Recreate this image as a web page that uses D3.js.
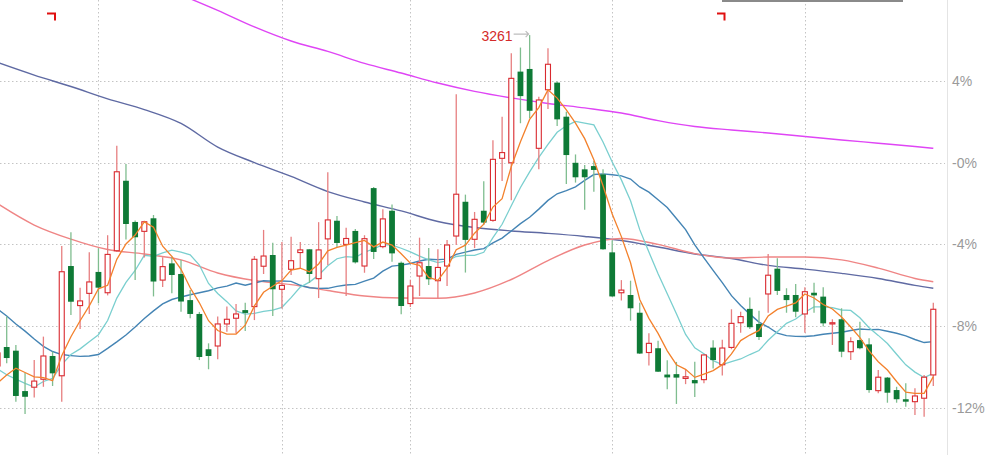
<!DOCTYPE html>
<html><head><meta charset="utf-8">
<script src="https://cdn.jsdelivr.net/npm/d3@7"></script>
<style>html,body{margin:0;padding:0;background:#fff;overflow:hidden}</style>
</head><body>
<svg id="c" width="1003" height="455"></svg>
<script>
// ---- data (percent change) ----
const idx = d3.range(-1, 102); // candle index (first one partly off-screen)
const open = [-9.96,-9.03,-9.21,-11.19,-11.00,-10.61,-9.47,-10.44,-5.06,-7.00,-6.40,-5.35,-6.37,-4.31,-0.88,-2.90,-3.36,-2.72,-5.75,-4.93,-5.45,-6.73,-7.41,-9.14,-8.98,-7.90,-7.62,-7.22,-7.05,-5.07,-4.52,-6.20,-5.22,-4.40,-4.24,-5.68,-3.73,-2.84,-4.00,-3.34,-5.06,-1.24,-4.11,-2.35,-4.90,-6.90,-5.55,-5.06,-5.78,-5.06,-3.59,-1.91,-3.75,-2.35,-2.82,0.22,0.00,4.47,4.60,0.71,3.58,3.93,2.26,0.00,-0.32,-0.16,-0.57,-4.39,-6.37,-6.48,-7.35,-9.30,-9.09,-10.38,-10.36,-10.57,-10.65,-10.63,-9.06,-9.90,-9.05,-7.84,-7.16,-7.90,-6.43,-5.19,-6.48,-6.48,-7.41,-6.37,-6.56,-7.90,-7.67,-9.26,-8.69,-8.90,-11.17,-10.53,-11.14,-11.59,-11.71,-11.54,-10.40];
const high = [-9.18,-7.54,-8.93,-10.30,-9.67,-8.52,-9.26,-4.08,-3.41,-6.12,-4.39,-4.19,-3.55,0.84,-0.06,-2.83,-2.84,-2.56,-4.63,-4.60,-4.76,-6.24,-7.31,-8.85,-7.54,-7.05,-6.92,-6.86,-4.57,-3.29,-3.92,-3.88,-3.62,-3.88,-4.24,-2.91,-0.46,-2.61,-3.18,-3.25,-3.55,-1.19,-2.28,-2.05,-4.84,-5.73,-3.67,-4.18,-4.24,-3.78,3.36,-1.56,-2.41,-0.91,1.10,2.26,5.37,5.65,6.26,3.24,5.61,3.98,2.50,0.41,-0.11,0.10,-0.32,-3.80,-5.75,-5.78,-6.86,-8.36,-8.72,-9.68,-9.76,-10.14,-9.75,-9.40,-8.70,-8.67,-7.18,-7.30,-6.60,-7.25,-4.47,-4.68,-6.15,-5.94,-6.10,-5.88,-6.10,-7.67,-7.13,-8.55,-7.79,-8.60,-10.16,-10.50,-10.98,-10.81,-11.05,-10.40,-6.86];
const low = [-10.16,-9.83,-11.71,-12.31,-11.51,-10.98,-10.94,-11.71,-7.46,-8.15,-7.41,-6.89,-6.50,-4.37,-3.76,-5.75,-4.64,-6.55,-6.09,-6.40,-7.30,-7.62,-9.67,-10.12,-9.63,-8.28,-8.36,-8.25,-7.71,-5.45,-7.51,-7.14,-5.50,-5.21,-5.89,-6.63,-5.01,-4.13,-6.53,-4.94,-5.39,-4.72,-4.19,-4.85,-7.42,-7.07,-6.53,-5.99,-6.64,-6.04,-4.03,-5.38,-4.18,-3.05,-2.89,-0.89,-1.84,1.94,2.18,-0.32,2.64,1.80,-1.04,-0.97,-2.30,-1.42,-4.26,-6.57,-6.75,-7.74,-9.37,-9.94,-10.26,-11.10,-11.82,-10.85,-11.48,-10.81,-10.08,-10.43,-9.14,-8.33,-8.15,-8.69,-7.35,-6.48,-7.35,-7.57,-8.33,-7.35,-8.03,-8.93,-9.53,-9.67,-9.14,-11.27,-11.30,-11.76,-11.76,-11.96,-12.36,-12.45,-10.94];
const close = [-9.32,-9.57,-11.43,-11.47,-10.70,-9.47,-10.32,-5.34,-6.81,-6.77,-5.84,-6.12,-4.49,-0.44,-3.00,-3.65,-2.89,-5.82,-5.09,-5.50,-6.80,-7.41,-9.52,-9.47,-7.90,-7.67,-7.41,-7.36,-4.73,-4.57,-6.20,-6.01,-4.80,-4.27,-5.45,-4.27,-2.80,-3.93,-3.71,-4.88,-3.72,-4.37,-2.75,-4.44,-7.02,-6.04,-4.90,-5.71,-5.13,-4.03,-1.54,-3.78,-2.77,-2.93,0.17,0.50,4.14,3.27,2.55,3.08,4.83,2.13,0.38,-0.71,-0.71,-0.35,-4.24,-6.55,-6.24,-7.13,-9.35,-8.85,-10.24,-10.52,-10.53,-10.49,-10.81,-9.42,-9.67,-9.08,-7.87,-7.54,-8.06,-8.54,-5.51,-6.28,-6.73,-7.30,-6.32,-6.50,-7.87,-7.84,-9.26,-8.77,-9.09,-11.14,-10.51,-11.27,-11.59,-11.71,-11.43,-10.51,-7.18];

const ma5Lead  = [-10.80,-10.40,-10.07,-10.28];
const ma10Lead = [-10.11,-10.39,-10.60,-10.81,-10.99,-10.72,-10.57,-9.89,-9.40];
const ma20Lead = [-7.17,-7.51,-7.90,-8.25,-8.64,-9.00,-9.25,-9.40,-9.45,-9.49,-9.47,-9.40,-9.10,-8.78,-8.44,-8.05,-7.63,-7.26,-6.92];

const longIdx = [-1,3,7,11,15,19,23,27,31,35,39,43,47,51,55,59,63,67,71,75,79,83,87,91,95,99,101];
const ma60  = [-2.00,-3.05,-3.74,-4.25,-4.47,-4.76,-5.40,-5.77,-5.97,-6.26,-6.53,-6.63,-6.64,-6.38,-5.72,-4.79,-4.03,-3.71,-4.00,-4.45,-4.67,-4.62,-4.62,-4.76,-5.16,-5.67,-5.83];
const ma120 = [4.92,4.30,3.74,3.13,2.61,1.93,0.77,0.01,-0.67,-1.41,-1.92,-2.36,-2.88,-3.17,-3.34,-3.46,-3.61,-3.81,-4.13,-4.47,-4.69,-5.03,-5.21,-5.42,-5.67,-6.01,-6.15];
const ma250Idx = [19,23,27,31,35,39,43,47,51,55,59,63,67,71,75,79,83,87,91,95,99,101];
const ma250 = [8.23,7.47,6.66,5.97,5.46,4.87,4.40,3.91,3.50,3.18,2.91,2.69,2.44,2.07,1.78,1.61,1.46,1.29,1.12,0.96,0.80,0.71];

const tickValues = [4, 0, -4, -8, -12];
const tickLabels = ["4%", "-0%", "-4%", "-8%", "-12%"];
const gridIdx = [10, 30, 44, 66, 87];
const peakIdx = 57, peakLabel = "3261";

// ---- drawing ----
const svg = d3.select('#c');
const x = d3.scalePoint().domain(idx).range([-2.47, 933.3]);
const y = d3.scaleLinear().domain([-12, 4]).range([407.6, 81.2]);

const grid = svg.append('g');
grid.selectAll('line.h').data(tickValues).join('line')
  .attr('x1', 0).attr('x2', 945).attr('y1', d => Math.round(y(d)) + 0.5).attr('y2', d => Math.round(y(d)) + 0.5)
  .attr('stroke', '#c4c4c4').attr('stroke-dasharray', '1.5,2.5');
grid.selectAll('line.v').data(gridIdx).join('line')
  .attr('x1', d => Math.round(x(d)) + 0.5).attr('x2', d => Math.round(x(d)) + 0.5).attr('y1', 0).attr('y2', 455)
  .attr('stroke', '#c4c4c4').attr('stroke-dasharray', '1.5,2.5');

// right axis
svg.append('line').attr('x1', 947.5).attr('x2', 947.5).attr('y1', 0).attr('y2', 455).attr('stroke', '#e4e4e4');
svg.selectAll('text.tk').data(tickValues).join('text')
  .attr('x', 952).attr('y', d => y(d)).attr('dy', '0.35em')
  .attr('font-family', 'Liberation Sans, Arial, sans-serif').attr('font-size', 14).attr('fill', '#9a9a9a')
  .text((d, i) => tickLabels[i]);

// moving averages
const maN = (n, lead) => idx.map((d, i) => i < n - 1 ? lead[i] : d3.mean(close.slice(i - n + 1, i + 1)));
const lineAll = d3.line().x((d, i) => x(idx[i])).y(d => y(d));
const plot = svg.append('g');
const sparse = (ids, vals) => ids.map((d, i) => [d, vals[i]]);
const lineSparse = d3.line().x(d => x(d[0])).y(d => y(d[1])).curve(d3.curveMonotoneX);

plot.append('path').attr('d', lineSparse(sparse(ma250Idx, ma250))).attr('fill', 'none').attr('stroke', '#df45f5').attr('stroke-width', 1.4);
plot.append('path').attr('d', lineSparse(sparse(longIdx, ma120))).attr('fill', 'none').attr('stroke', '#5f6aa3').attr('stroke-width', 1.4);
plot.append('path').attr('d', lineSparse(sparse(longIdx, ma60))).attr('fill', 'none').attr('stroke', '#ef8585').attr('stroke-width', 1.4);
plot.append('path').attr('d', lineAll(maN(20, ma20Lead))).attr('fill', 'none').attr('stroke', '#4484b4').attr('stroke-width', 1.4);
plot.append('path').attr('d', lineAll(maN(10, ma10Lead))).attr('fill', 'none').attr('stroke', '#7acfcf').attr('stroke-width', 1.3);

// candles
const candles = plot.append('g').selectAll('g').data(idx).join('g');
const up = i => close[i] >= open[i];
candles.append('line')
  .attr('x1', (d) => x(d)).attr('x2', d => x(d))
  .attr('y1', (d, i) => y(high[i])).attr('y2', (d, i) => y(low[i]))
  .attr('stroke', (d, i) => up(i) ? '#e77f80' : '#7fbd8f').attr('stroke-width', 1.3);
candles.append('rect')
  .attr('x', (d, i) => x(d) - (up(i) ? 2.5 : 2.9))
  .attr('width', (d, i) => up(i) ? 5 : 5.8)
  .attr('y', (d, i) => y(Math.max(open[i], close[i])))
  .attr('height', (d, i) => Math.max(1, y(Math.min(open[i], close[i])) - y(Math.max(open[i], close[i]))))
  .attr('fill', (d, i) => up(i) ? '#fff' : '#0e7a36')
  .attr('stroke', (d, i) => up(i) ? '#d9292f' : 'none').attr('stroke-width', 1.1);

plot.append('path').attr('d', lineAll(maN(5, ma5Lead))).attr('fill', 'none').attr('stroke', '#f3812c').attr('stroke-width', 1.3);

// peak annotation
const px = x(peakIdx), py = y(high[idx.indexOf(peakIdx)]);
svg.append('text').attr('x', px - 17).attr('y', py + 6).attr('text-anchor', 'end')
  .attr('font-family', 'Liberation Sans, Arial, sans-serif').attr('font-size', 14).attr('fill', '#d42a2a').text(peakLabel);
svg.append('path').attr('d', `M${px - 16},${py - 1}H${px - 1}M${px - 4},${py - 4}L${px - 1},${py - 1}L${px - 4},${py + 2}`)
  .attr('fill', 'none').attr('stroke', '#bdbdbd').attr('stroke-width', 1.2);

// range markers and top bar
svg.append('path').attr('d', 'M47,13.5H55V20.5').attr('fill', 'none').attr('stroke', '#e01010').attr('stroke-width', 2);
svg.append('path').attr('d', 'M717,13.5H724.5V20.5').attr('fill', 'none').attr('stroke', '#e01010').attr('stroke-width', 2);
svg.append('rect').attr('x', 722).attr('y', 0).attr('width', 181).attr('height', 2).attr('fill', '#8a8a8a');
</script>
</body></html>
